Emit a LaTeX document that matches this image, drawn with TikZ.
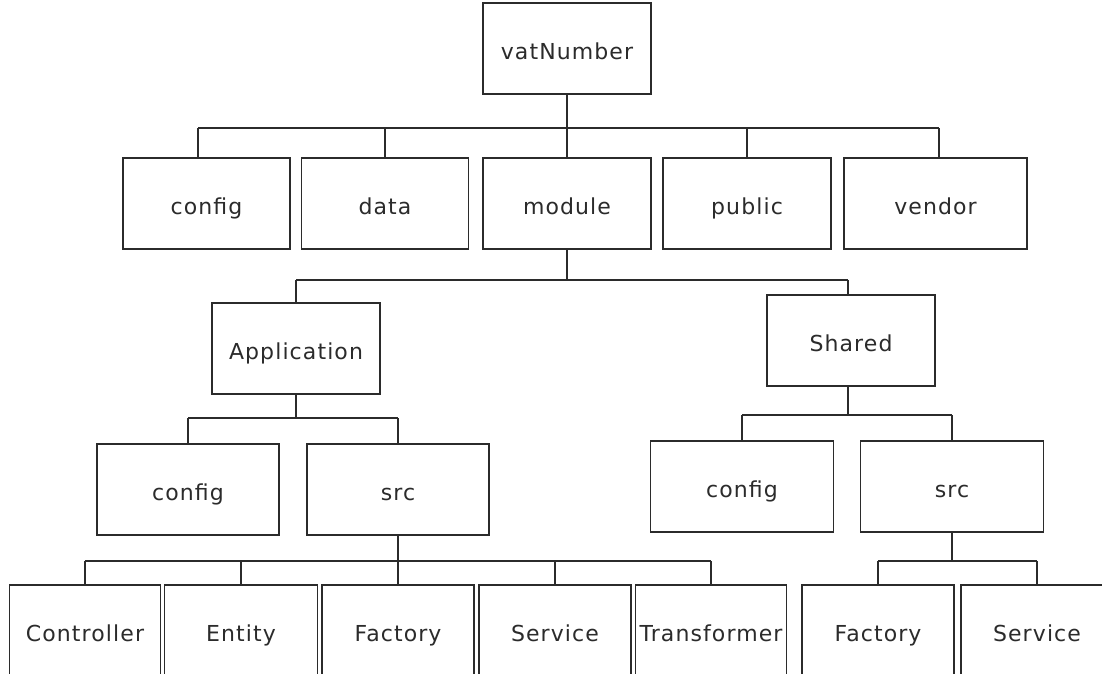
\documentclass[tikz,border=0pt]{standalone}
\usepackage{fontspec}
\newfontfamily\lbl[LetterSpace=5]{DejaVu Sans}
\usetikzlibrary{calc}
\definecolor{ink}{HTML}{2B2B2B}
\tikzset{
  box/.style={draw=ink, line width=1.6pt, fill=white, inner sep=0pt,
    minimum height=91pt, text=ink, text height=26pt, text depth=4pt,
    font=\lbl\fontsize{22}{26}\selectfont},
  wire/.style={draw=ink, line width=1.8pt}
}
\begin{document}
\begin{tikzpicture}[x=1pt,y=-1pt]
\useasboundingbox (0,0) rectangle (1102,674);
% level 0
\node[box, minimum width=168pt] (vat) at (567,48.5) {vatNumber};
% level 1
\node[box, minimum width=167pt] (cfg) at (206.5,203.5) {config};
\node[box, minimum width=167pt] (data) at (385,203.5) {data};
\node[box, minimum width=168pt] (module) at (567,203.5) {module};
\node[box, minimum width=168pt] (public) at (747,203.5) {public};
\node[box, minimum width=183pt] (vendor) at (935.5,203.5) {vendor};
% level 2
\node[box, minimum width=168pt] (app) at (296,348.5) {Application};
\node[box, minimum width=168pt] (shared) at (851,340.5) {Shared};
% level 3
\node[box, minimum width=182pt] (acfg) at (188,489.5) {config};
\node[box, minimum width=182pt] (asrc) at (398,489.5) {src};
\node[box, minimum width=183pt] (scfg) at (742,486.5) {config};
\node[box, minimum width=183pt] (ssrc) at (952,486.5) {src};
% level 4
\node[box, minimum width=151pt] (ctrl) at (85,630.5) {Controller};
\node[box, minimum width=153pt] (ent) at (241,630.5) {Entity};
\node[box, minimum width=152pt] (fac) at (398,630.5) {Factory};
\node[box, minimum width=152pt] (svc) at (555,630.5) {Service};
\node[box, minimum width=151pt] (trf) at (711,630.5) {Transformer};
\node[box, minimum width=152pt] (sfac) at (878,630.5) {Factory};
\node[box, minimum width=152pt] (ssvc) at (1037,630.5) {Service};

% bus coordinates
\coordinate (b0) at (0,128);
\coordinate (b1) at (0,280);
\coordinate (b2) at (0,418);
\coordinate (b3) at (0,415);
\coordinate (b4) at (0,561);
\coordinate (cfgd) at ($(cfg.north)+(-8.5,0)$);
\coordinate (vendd) at ($(vendor.north)+(3.5,0)$);
\coordinate (sharedd) at ($(shared.north)+(-3,0)$);
\coordinate (sharedu) at ($(shared.south)+(-3,0)$);

% vatNumber tree
\draw[wire] (vat.south) -- (vat.south |- b0);
\draw[wire] (cfgd |- b0) -- (vendd |- b0);
\foreach \n in {data,module,public}
  \draw[wire] (\n.north) -- (\n.north |- b0);
\draw[wire] (cfgd) -- (cfgd |- b0);
\draw[wire] (vendd) -- (vendd |- b0);

% module tree
\draw[wire] (module.south) -- (module.south |- b1);
\draw[wire] (app.north |- b1) -- (sharedd |- b1);
\draw[wire] (app.north) -- (app.north |- b1);
\draw[wire] (sharedd) -- (sharedd |- b1);

% Application tree
\draw[wire] (app.south) -- (app.south |- b2);
\draw[wire] (acfg.north |- b2) -- (asrc.north |- b2);
\draw[wire] (acfg.north) -- (acfg.north |- b2);
\draw[wire] (asrc.north) -- (asrc.north |- b2);

% Shared tree
\draw[wire] (sharedu) -- (sharedu |- b3);
\draw[wire] (scfg.north |- b3) -- (ssrc.north |- b3);
\draw[wire] (scfg.north) -- (scfg.north |- b3);
\draw[wire] (ssrc.north) -- (ssrc.north |- b3);

% Application/src tree
\draw[wire] (asrc.south) -- (asrc.south |- b4);
\draw[wire] (ctrl.north |- b4) -- (trf.north |- b4);
\foreach \n in {ctrl,ent,fac,svc,trf}
  \draw[wire] (\n.north) -- (\n.north |- b4);

% Shared/src tree
\draw[wire] (ssrc.south) -- (ssrc.south |- b4);
\draw[wire] (sfac.north |- b4) -- (ssvc.north |- b4);
\draw[wire] (sfac.north) -- (sfac.north |- b4);
\draw[wire] (ssvc.north) -- (ssvc.north |- b4);
\end{tikzpicture}
\end{document}
